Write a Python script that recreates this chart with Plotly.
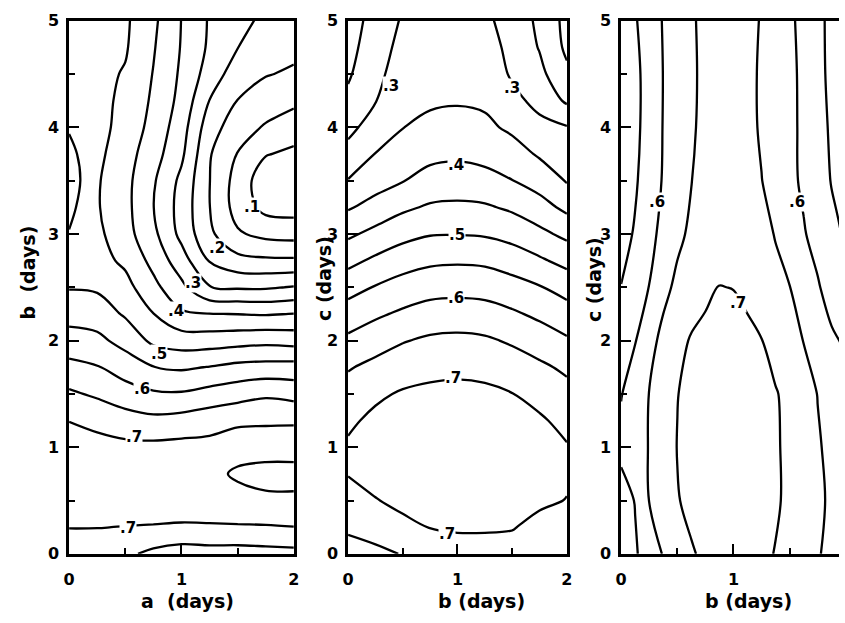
import plotly.graph_objects as go

# ---------------- data ----------------
# Panel 1: a (x) vs b (y)
p1_x = [0, 0.25, 0.5, 0.75, 1.0, 1.25, 1.5, 1.75, 2.0]
p1_y = [0, 0.25, 0.5, 0.75, 1.0, 1.25, 1.5, 1.75, 2.0, 2.25, 2.5,
        2.75, 3.0, 3.25, 3.5, 3.75, 4.0, 4.25, 4.5, 4.75, 5.0]
p1_z = [
    [0.680, 0.675, 0.660, 0.638, 0.625, 0.629, 0.628, 0.632, 0.635],
    [0.701, 0.701, 0.699, 0.697, 0.694, 0.695, 0.696, 0.696, 0.699],
    [0.720, 0.720, 0.722, 0.725, 0.728, 0.728, 0.731, 0.741, 0.742],
    [0.730, 0.725, 0.725, 0.728, 0.735, 0.735, 0.758, 0.765, 0.765],
    [0.720, 0.715, 0.712, 0.712, 0.715, 0.715, 0.729, 0.731, 0.731],
    [0.699, 0.688, 0.672, 0.663, 0.669, 0.680, 0.690, 0.692, 0.693],
    [0.658, 0.642, 0.622, 0.607, 0.605, 0.618, 0.630, 0.642, 0.633],
    [0.614, 0.603, 0.577, 0.551, 0.543, 0.552, 0.564, 0.568, 0.569],
    [0.571, 0.562, 0.533, 0.489, 0.475, 0.476, 0.481, 0.486, 0.481],
    [0.531, 0.526, 0.494, 0.451, 0.407, 0.401, 0.399, 0.396, 0.401],
    [0.497, 0.493, 0.467, 0.414, 0.362, 0.301, 0.294, 0.294, 0.303],
    [0.485, 0.468, 0.440, 0.385, 0.322, 0.247, 0.215, 0.209, 0.208],
    [0.497, 0.461, 0.419, 0.362, 0.286, 0.210, 0.156, 0.136, 0.131],
    [0.515, 0.454, 0.415, 0.351, 0.281, 0.201, 0.130, 0.085, 0.080],
    [0.530, 0.455, 0.415, 0.356, 0.288, 0.201, 0.130, 0.070, 0.060],
    [0.515, 0.462, 0.421, 0.371, 0.310, 0.204, 0.148, 0.103, 0.090],
    [0.495, 0.467, 0.432, 0.384, 0.322, 0.222, 0.172, 0.145, 0.124],
    [0.485, 0.465, 0.439, 0.392, 0.335, 0.249, 0.199, 0.175, 0.161],
    [0.480, 0.464, 0.446, 0.398, 0.342, 0.278, 0.224, 0.203, 0.193],
    [0.475, 0.463, 0.455, 0.404, 0.347, 0.292, 0.251, 0.221, 0.213],
    [0.470, 0.461, 0.458, 0.410, 0.349, 0.295, 0.264, 0.240, 0.230],
]

# Panel 2: b (x) vs c (y)
p2_x = [0, 0.25, 0.5, 0.75, 1.0, 1.25, 1.5, 1.75, 2.0]
p2_y = [0, 0.25, 0.5, 0.75, 1.0, 1.25, 1.5, 1.75, 2.0, 2.25, 2.5,
        2.75, 3.0, 3.25, 3.5, 3.75, 4.0, 4.25, 4.5, 4.75, 5.0]
p2_z = [
    [0.640, 0.640, 0.652, 0.680, 0.685, 0.685, 0.685, 0.675, 0.670],
    [0.654, 0.668, 0.690, 0.701, 0.704, 0.704, 0.702, 0.690, 0.685],
    [0.680, 0.698, 0.710, 0.715, 0.720, 0.720, 0.718, 0.706, 0.699],
    [0.702, 0.714, 0.725, 0.730, 0.735, 0.733, 0.728, 0.716, 0.705],
    [0.706, 0.720, 0.730, 0.735, 0.738, 0.735, 0.728, 0.718, 0.703],
    [0.692, 0.710, 0.722, 0.728, 0.730, 0.728, 0.718, 0.706, 0.687],
    [0.670, 0.692, 0.705, 0.710, 0.712, 0.710, 0.701, 0.685, 0.666],
    [0.646, 0.663, 0.677, 0.687, 0.690, 0.686, 0.673, 0.659, 0.641],
    [0.610, 0.629, 0.647, 0.658, 0.661, 0.657, 0.644, 0.626, 0.606],
    [0.573, 0.592, 0.608, 0.621, 0.624, 0.620, 0.607, 0.590, 0.571],
    [0.531, 0.553, 0.570, 0.581, 0.584, 0.581, 0.569, 0.553, 0.531],
    [0.486, 0.509, 0.529, 0.541, 0.544, 0.541, 0.527, 0.507, 0.485],
    [0.441, 0.464, 0.484, 0.497, 0.498, 0.495, 0.483, 0.462, 0.438],
    [0.395, 0.417, 0.441, 0.456, 0.459, 0.456, 0.442, 0.419, 0.388],
    [0.352, 0.380, 0.398, 0.418, 0.423, 0.416, 0.401, 0.379, 0.346],
    [0.317, 0.351, 0.373, 0.387, 0.391, 0.385, 0.370, 0.344, 0.325],
    [0.286, 0.323, 0.349, 0.362, 0.366, 0.360, 0.341, 0.313, 0.303],
    [0.260, 0.298, 0.338, 0.343, 0.346, 0.342, 0.313, 0.286, 0.242],
    [0.244, 0.285, 0.327, 0.332, 0.336, 0.330, 0.294, 0.263, 0.210],
    [0.235, 0.275, 0.316, 0.322, 0.327, 0.320, 0.287, 0.247, 0.190],
    [0.225, 0.270, 0.305, 0.315, 0.320, 0.310, 0.280, 0.240, 0.185],
]

# Panel 3: b (x) vs c (y)
p3_x = [0, 0.125, 0.25, 0.375, 0.5, 0.625, 0.75, 0.875, 1.0,
        1.125, 1.25, 1.375, 1.5, 1.625, 1.75, 1.875, 2.0]
p3_y = [0, 0.5, 1.0, 1.5, 2.0, 2.5, 3.0, 3.5, 4.0, 4.5, 5.0]
p3_z = [
    [0.575, 0.595, 0.622, 0.653, 0.675, 0.697, 0.706, 0.710, 0.711, 0.709, 0.705, 0.699, 0.683, 0.668, 0.653, 0.640, 0.635],
    [0.580, 0.602, 0.651, 0.673, 0.698, 0.708, 0.716, 0.720, 0.720, 0.716, 0.710, 0.703, 0.695, 0.677, 0.658, 0.643, 0.635],
    [0.612, 0.630, 0.652, 0.678, 0.701, 0.712, 0.720, 0.725, 0.725, 0.720, 0.713, 0.704, 0.692, 0.673, 0.654, 0.640, 0.632],
    [0.598, 0.623, 0.651, 0.676, 0.699, 0.710, 0.718, 0.722, 0.722, 0.718, 0.711, 0.703, 0.688, 0.668, 0.649, 0.632, 0.622],
    [0.580, 0.598, 0.634, 0.663, 0.686, 0.704, 0.712, 0.718, 0.718, 0.710, 0.701, 0.683, 0.666, 0.649, 0.629, 0.608, 0.593],
    [0.551, 0.575, 0.601, 0.637, 0.660, 0.676, 0.690, 0.701, 0.699, 0.690, 0.680, 0.665, 0.651, 0.628, 0.605, 0.578, 0.549],
    [0.535, 0.554, 0.585, 0.614, 0.640, 0.658, 0.672, 0.683, 0.686, 0.682, 0.668, 0.647, 0.626, 0.604, 0.582, 0.560, 0.545],
    [0.530, 0.545, 0.572, 0.604, 0.627, 0.649, 0.667, 0.677, 0.678, 0.670, 0.651, 0.632, 0.612, 0.592, 0.569, 0.548, 0.540],
    [0.525, 0.541, 0.566, 0.602, 0.623, 0.644, 0.662, 0.672, 0.673, 0.662, 0.645, 0.628, 0.611, 0.591, 0.565, 0.544, 0.535],
    [0.525, 0.541, 0.565, 0.601, 0.622, 0.643, 0.660, 0.670, 0.670, 0.660, 0.645, 0.628, 0.611, 0.590, 0.562, 0.540, 0.530],
    [0.530, 0.546, 0.574, 0.603, 0.624, 0.645, 0.660, 0.668, 0.670, 0.663, 0.647, 0.628, 0.609, 0.586, 0.560, 0.540, 0.530],
]

# contour levels
level_start = 0.10
level_end = 0.75
level_step = 0.05

# contour label values and where they sit
p1_label_x = [1.63, 1.32, 1.10, 0.95, 0.80, 0.65, 0.58, 0.52]
p1_label_y = [3.25, 2.87, 2.54, 2.28, 1.87, 1.55, 1.10, 0.24]
p1_label_v = [0.1, 0.2, 0.3, 0.4, 0.5, 0.6, 0.7, 0.7]
p2_label_x = [0.39, 1.50, 0.99, 1.00, 0.99, 0.96, 0.90]
p2_label_y = [4.39, 4.37, 3.65, 2.99, 2.40, 1.65, 0.19]
p2_label_v = [0.3, 0.3, 0.4, 0.5, 0.6, 0.7, 0.7]
p3_label_x = [0.32, 1.57, 1.04]
p3_label_y = [3.30, 3.30, 2.35]
p3_label_v = [0.6, 0.6, 0.7]

x_tick_vals = [0, 1, 2]
x_tick_text = ["0", "1", "2"]
y_tick_vals = [0, 1, 2, 3, 4, 5]
y_tick_text = ["0", "1", "2", "3", "4", "5"]
x_titles = ["a  (days)", "b (days)", "b (days)"]
y_titles = ["b  (days)", "c (days)", "c (days)"]

# ---------------- figure ----------------
W, H = 845, 623
FONT = "DejaVu Sans"
fig = go.Figure()

panels = [
    (p1_x, p1_y, p1_z, "x", "y"),
    (p2_x, p2_y, p2_z, "x2", "y2"),
    (p3_x, p3_y, p3_z, "x3", "y3"),
]
for xv, yv, zv, xa, ya in panels:
    fig.add_trace(go.Contour(
        x=xv, y=yv, z=zv, xaxis=xa, yaxis=ya,
        contours=dict(start=level_start, end=level_end, size=level_step,
                      coloring="lines", showlabels=False),
        line=dict(width=2.3, smoothing=1.0),
        colorscale=[[0, "black"], [1, "black"]],
        showscale=False, hoverinfo="skip",
    ))

# pixel geometry of the three frames
y_dom = [1 - 562 / H, 1 - 12 / H]
x_doms = [[64 / W, 292 / W], [347 / W, 569 / W], [624 / W, 1.0]]
x_ranges = [[0, 2], [0, 2], [0, 1.94]]


def xaxis_cfg(dom, rng):
    return dict(
        domain=dom, range=rng, tickmode="array", tickvals=x_tick_vals, ticktext=x_tick_text,
        ticks="inside", ticklen=10, tickwidth=2, tickcolor="black",
        minor=dict(tickvals=[0.5, 1.5], ticks="inside", ticklen=6, tickwidth=2, tickcolor="black"),
        showline=True, linewidth=2.5, linecolor="black", mirror=True,
        showgrid=False, zeroline=False, ticklabelstandoff=9,
        tickfont=dict(family=FONT, size=16, color="black", weight="bold"),
        fixedrange=True,
    )


def yaxis_cfg(anchor, mirror=True):
    return dict(
        domain=y_dom, range=[0, 5], anchor=anchor, tickmode="array",
        tickvals=y_tick_vals, ticktext=y_tick_text,
        ticks="inside", ticklen=10, tickwidth=2, tickcolor="black",
        minor=dict(tickvals=[0.5, 1.5, 2.5, 3.5, 4.5], ticks="inside", ticklen=6,
                   tickwidth=2, tickcolor="black"),
        showline=True, linewidth=2.5, linecolor="black", mirror=mirror,
        showgrid=False, zeroline=False, ticklabelstandoff=4,
        tickfont=dict(family=FONT, size=16, color="black", weight="bold"),
        fixedrange=True,
    )


fig.update_layout(
    width=W, height=H, margin=dict(l=0, r=0, t=0, b=0),
    paper_bgcolor="white", plot_bgcolor="white", showlegend=False,
    xaxis=dict(xaxis_cfg(x_doms[0], x_ranges[0]), anchor="y"),
    xaxis2=dict(xaxis_cfg(x_doms[1], x_ranges[1]), anchor="y2"),
    xaxis3=dict(xaxis_cfg(x_doms[2], x_ranges[2]), anchor="y3"),
    yaxis=yaxis_cfg("x"),
    yaxis2=yaxis_cfg("x2"),
    yaxis3=yaxis_cfg("x3", mirror=False),
)

annotations = []
# contour labels
for lx, ly, lv, xr, yr in [(p1_label_x, p1_label_y, p1_label_v, "x", "y"),
                           (p2_label_x, p2_label_y, p2_label_v, "x2", "y2"),
                           (p3_label_x, p3_label_y, p3_label_v, "x3", "y3")]:
    for xx, yy, vv in zip(lx, ly, lv):
        annotations.append(dict(
            x=xx, y=yy, xref=xr, yref=yr, text="." + str(int(round(vv * 10))),
            showarrow=False, bgcolor="white", borderpad=0,
            font=dict(family=FONT, size=15, color="black", weight="bold"),
        ))

# axis titles
x_title_px = [(184, 611), (482, 611), (753, 611)]
y_title_px = [(22, 272), (322, 278), (597, 279)]
for (px, py), t in zip(x_title_px, x_titles):
    annotations.append(dict(
        x=px / W, y=1 - py / H, xref="paper", yref="paper", text=t, showarrow=False,
        xanchor="center", yanchor="middle",
        font=dict(family=FONT, size=19, color="black", weight="bold"),
    ))
for (px, py), t in zip(y_title_px, y_titles):
    annotations.append(dict(
        x=px / W, y=1 - py / H, xref="paper", yref="paper", text=t, showarrow=False,
        textangle=-90, xanchor="center", yanchor="middle",
        font=dict(family=FONT, size=19, color="black", weight="bold"),
    ))

fig.update_layout(annotations=annotations)
fig.write_html("out.html")
